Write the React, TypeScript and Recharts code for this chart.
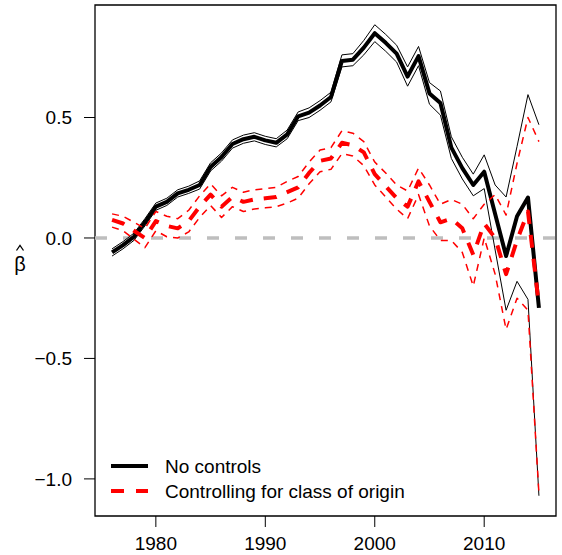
import React from 'react';
import { LineChart, Line, XAxis, YAxis, ReferenceLine, ReferenceArea, Legend } from 'recharts';

const years = [
  1976, 1977, 1978, 1979, 1980, 1981, 1982, 1983, 1984, 1985,
  1986, 1987, 1988, 1989, 1990, 1991, 1992, 1993, 1994, 1995,
  1996, 1997, 1998, 1999, 2000, 2001, 2002, 2003, 2004, 2005,
  2006, 2007, 2008, 2009, 2010, 2011, 2012, 2013, 2014, 2015,
];

// No controls: estimate and 95% band
const noCtrl = [
  -0.06, -0.03, 0.005, 0.065, 0.13, 0.15, 0.185, 0.2, 0.22, 0.295,
  0.336, 0.39, 0.41, 0.42, 0.405, 0.395, 0.43, 0.505, 0.52, 0.55,
  0.585, 0.735, 0.74, 0.79, 0.85, 0.81, 0.765, 0.67, 0.755, 0.6,
  0.56, 0.375, 0.29, 0.22, 0.275, 0.1, -0.075, 0.09, 0.168, -0.29,
];
const noCtrlHi = [
  -0.045, -0.015, 0.02, 0.08, 0.145, 0.165, 0.2, 0.215, 0.237, 0.312,
  0.353, 0.407, 0.427, 0.437, 0.422, 0.412, 0.448, 0.523, 0.54, 0.57,
  0.605, 0.76, 0.765, 0.82, 0.885, 0.845, 0.8, 0.71, 0.795, 0.645,
  0.61, 0.42, 0.335, 0.265, 0.345, 0.22, 0.17, 0.38, 0.595, 0.47,
];
const noCtrlLo = [
  -0.075, -0.045, -0.01, 0.05, 0.115, 0.135, 0.17, 0.185, 0.203, 0.278,
  0.319, 0.373, 0.393, 0.403, 0.388, 0.378, 0.412, 0.487, 0.5, 0.53,
  0.565, 0.71, 0.715, 0.76, 0.815, 0.775, 0.73, 0.63, 0.715, 0.555,
  0.51, 0.33, 0.245, 0.175, 0.205, -0.05, -0.3, -0.18, -0.255, -1.07,
];

// Controlling for class of origin: estimate and 95% band
const ctrl = [
  0.075, 0.06, 0.03, 0.0, 0.07, 0.05, 0.04, 0.07, 0.13, 0.18,
  0.13, 0.17, 0.15, 0.16, 0.165, 0.17, 0.19, 0.21, 0.27, 0.32,
  0.33, 0.395, 0.385, 0.355, 0.265, 0.215, 0.165, 0.13, 0.235, 0.15,
  0.065, 0.08, 0.04, -0.07, 0.06, 0.0, -0.15, -0.01, 0.11, -0.28,
];
const ctrlHi = [
  0.1, 0.09, 0.065, 0.04, 0.11, 0.09, 0.08, 0.115, 0.175, 0.225,
  0.175, 0.21, 0.19, 0.2, 0.205, 0.21, 0.235, 0.255, 0.315, 0.365,
  0.375, 0.445, 0.435, 0.4, 0.315, 0.27, 0.22, 0.195, 0.29, 0.22,
  0.14, 0.16, 0.14, 0.08, 0.14, 0.18, 0.095, 0.31, 0.5, 0.4,
];
const ctrlLo = [
  0.045, 0.03, -0.005, -0.04, 0.03, 0.005, 0.0, 0.025, 0.085, 0.135,
  0.085, 0.13, 0.11, 0.12, 0.125, 0.13, 0.145, 0.165, 0.225, 0.275,
  0.285, 0.35, 0.34, 0.3, 0.22, 0.17, 0.12, 0.08, 0.18, 0.05,
  -0.01, -0.01, -0.06, -0.2, 0.0, -0.15, -0.38, -0.25, -0.3, -1.06,
];

const xTicks = [1980, 1990, 2000, 2010];
const yTicks = [-1.0, -0.5, 0.0, 0.5];
const legendLabels = ['No controls', 'Controlling for class of origin'];
const yLabel = '\u03B2';

const data = years.map((year, i) => ({
  year,
  noCtrl: noCtrl[i],
  noCtrlHi: noCtrlHi[i],
  noCtrlLo: noCtrlLo[i],
  ctrl: ctrl[i],
  ctrlHi: ctrlHi[i],
  ctrlLo: ctrlLo[i],
}));

const FONT = '"Liberation Sans", Arial, Helvetica, sans-serif';
const FS = 19;
const RED = '#FF0000';
const X_DOMAIN: [number, number] = [1974.44, 2016.56];
const Y_DOMAIN: [number, number] = [-1.154, 0.967];

const fmt = (v: number) => (v < 0 ? '\u2212' : '') + Math.abs(v).toFixed(1);

function LegendBox() {
  return (
    <svg width={400} height={56} style={{ display: 'block', fontFamily: FONT }}>
      <line x1={11} y1={16} x2={48} y2={16} stroke="#000" strokeWidth={4} />
      <text x={65} y={16} dy="0.35em" fontSize={FS} fill="#000">{legendLabels[0]}</text>
      <line x1={11} y1={41} x2={48} y2={41} stroke={RED} strokeWidth={4} strokeDasharray="13 12" />
      <text x={65} y={41} dy="0.35em" fontSize={FS} fill="#000">{legendLabels[1]}</text>
    </svg>
  );
}

// beta with a drawn circumflex accent above it
function YLabel(props: any) {
  const vb = props.viewBox || { x: 0, y: 0, width: 95, height: 511 };
  const cx = vb.x + 20;
  const cy = vb.y + vb.height / 2;
  return (
    <g style={{ fontFamily: FONT }}>
      <text x={cx} y={cy + 10} textAnchor="middle" fontSize={20} fill="#000">{yLabel}</text>
      <polyline
        points={`${cx - 3.5},${cy - 10} ${cx},${cy - 15} ${cx + 3.5},${cy - 10}`}
        fill="none"
        stroke="#000"
        strokeWidth={1.3}
      />
    </g>
  );
}

export default function App() {
  return (
    <div style={{ position: 'absolute', left: 0, top: 0 }}>
      <LineChart
        width={562}
        height={555}
        data={data}
        margin={{ top: 5, right: 6, bottom: 0, left: 0 }}
        style={{ fontFamily: FONT }}
      >
        <XAxis
          dataKey="year"
          type="number"
          domain={X_DOMAIN}
          ticks={xTicks}
          allowDataOverflow
          axisLine={false}
          tickLine={{ stroke: '#000' }}
          tickSize={11}
          tickMargin={10}
          height={39}
          tick={{ fontSize: FS, fill: '#000', fontFamily: FONT }}
        />
        <YAxis
          type="number"
          domain={Y_DOMAIN}
          ticks={yTicks}
          allowDataOverflow
          axisLine={false}
          tickLine={{ stroke: '#000' }}
          tickSize={11}
          tickMargin={12}
          width={95}
          tickFormatter={fmt}
          tick={{ fontSize: FS, fill: '#000', fontFamily: FONT }}
          label={<YLabel />}
        />
        <ReferenceLine y={0} stroke="#BEBEBE" strokeWidth={3.5} strokeDasharray="12 16" />
        <Line dataKey="noCtrlHi" stroke="#000" strokeWidth={1} dot={false} isAnimationActive={false} strokeLinejoin="round" />
        <Line dataKey="noCtrlLo" stroke="#000" strokeWidth={1} dot={false} isAnimationActive={false} strokeLinejoin="round" />
        <Line dataKey="noCtrl" stroke="#000" strokeWidth={4} dot={false} isAnimationActive={false} strokeLinejoin="round" />
        <Line dataKey="ctrlHi" stroke={RED} strokeWidth={1.5} strokeDasharray="7 6" dot={false} isAnimationActive={false} strokeLinejoin="round" />
        <Line dataKey="ctrlLo" stroke={RED} strokeWidth={1.5} strokeDasharray="7 6" dot={false} isAnimationActive={false} strokeLinejoin="round" />
        <Line dataKey="ctrl" stroke={RED} strokeWidth={4} strokeDasharray="13 11" dot={false} isAnimationActive={false} strokeLinejoin="round" />
        <ReferenceArea
          x1={X_DOMAIN[0]}
          x2={X_DOMAIN[1]}
          y1={Y_DOMAIN[0]}
          y2={Y_DOMAIN[1]}
          fill="none"
          fillOpacity={0}
          stroke="#000"
          strokeWidth={1.3}
          ifOverflow="extendDomain"
        />
        <Legend
          layout="vertical"
          align="center"
          verticalAlign="middle"
          content={() => <LegendBox />}
          wrapperStyle={{ left: 100, top: 450, width: 400, height: 56 }}
        />
      </LineChart>
    </div>
  );
}
